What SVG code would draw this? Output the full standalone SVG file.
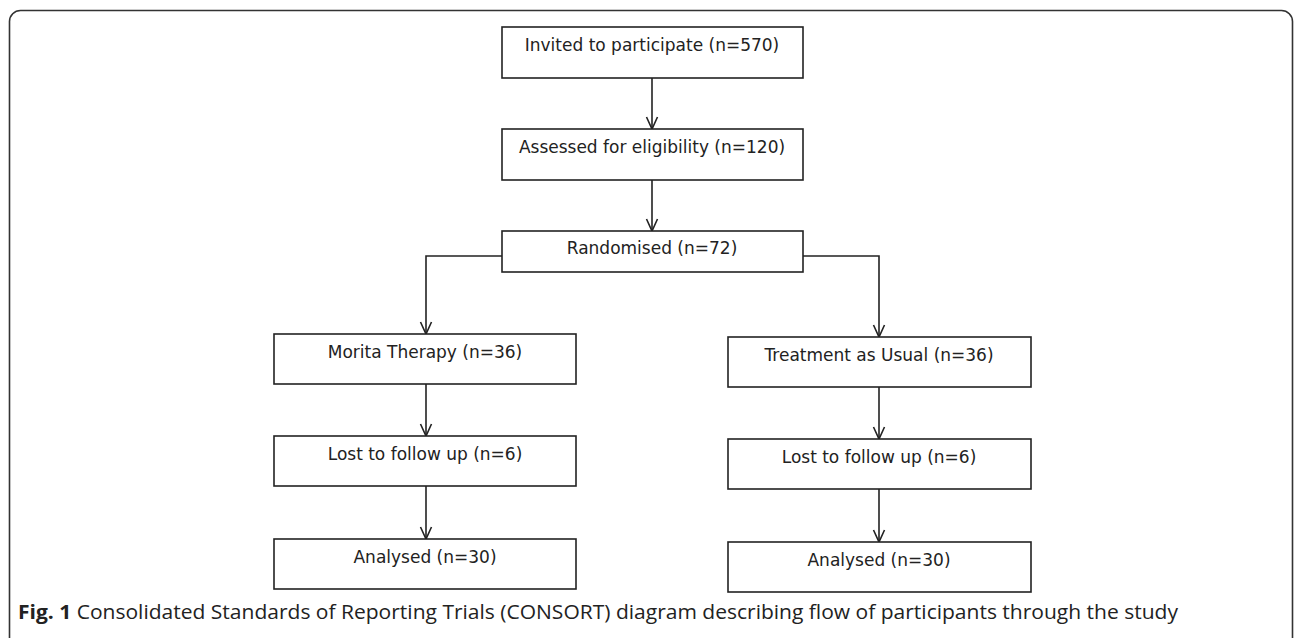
<svg xmlns="http://www.w3.org/2000/svg" width="1296" height="638" viewBox="0 0 1296 638">
<style>
.box{fill:#fff;stroke:#222;stroke-width:1.6}
.lbl{font-family:"DejaVu Sans",Verdana,sans-serif;font-size:17px;fill:#222;text-anchor:middle}
.con{fill:none;stroke:#222;stroke-width:1.6}
.cap{font-family:"Open Sans","Liberation Sans",sans-serif;font-size:20px;fill:#222}
</style>
<rect x="9.5" y="10.5" width="1283" height="640" rx="11" fill="none" stroke="#333" stroke-width="1.6"/>
<g id="connectors">
<path class="con" d="M652,78 V128"/>
<path class="con" d="M652,180 V230"/>
<path class="con" d="M502,256 H426 V333"/>
<path class="con" d="M803,256 H879 V336"/>
<path class="con" d="M426,384 V435"/>
<path class="con" d="M426,486 V538"/>
<path class="con" d="M879,387 V438"/>
<path class="con" d="M879,489 V541"/>
<g class="con">
<path d="M646.5,117 L652,129 L657.5,117"/>
<path d="M646.5,219 L652,231 L657.5,219"/>
<path d="M420.5,322 L426,334 L431.5,322"/>
<path d="M873.5,325 L879,337 L884.5,325"/>
<path d="M420.5,424 L426,436 L431.5,424"/>
<path d="M420.5,527 L426,539 L431.5,527"/>
<path d="M873.5,427 L879,439 L884.5,427"/>
<path d="M873.5,530 L879,542 L884.5,530"/>
</g>
</g>
<g id="invited"><rect class="box" x="502" y="27" width="301" height="51"/><text class="lbl" x="652" y="51">Invited to participate (n=570)</text></g>
<g id="assessed"><rect class="box" x="502" y="129" width="301" height="51"/><text class="lbl" x="652" y="153">Assessed for eligibility (n=120)</text></g>
<g id="randomised"><rect class="box" x="502" y="231" width="301" height="41"/><text class="lbl" x="652" y="254">Randomised (n=72)</text></g>
<g id="morita"><rect class="box" x="274" y="334" width="302" height="50"/><text class="lbl" x="425" y="358">Morita Therapy (n=36)</text></g>
<g id="lost-left"><rect class="box" x="274" y="436" width="302" height="50"/><text class="lbl" x="425" y="460">Lost to follow up (n=6)</text></g>
<g id="analysed-left"><rect class="box" x="274" y="539" width="302" height="50"/><text class="lbl" x="425" y="563">Analysed (n=30)</text></g>
<g id="tau"><rect class="box" x="728" y="337" width="303" height="50"/><text class="lbl" x="879" y="361">Treatment as Usual (n=36)</text></g>
<g id="lost-right"><rect class="box" x="728" y="439" width="303" height="50"/><text class="lbl" x="879" y="463">Lost to follow up (n=6)</text></g>
<g id="analysed-right"><rect class="box" x="728" y="542" width="303" height="50"/><text class="lbl" x="879" y="566">Analysed (n=30)</text></g>
<text class="cap" x="18" y="619" textLength="1160" lengthAdjust="spacingAndGlyphs"><tspan font-weight="bold">Fig. 1</tspan> Consolidated Standards of Reporting Trials (CONSORT) diagram describing flow of participants through the study</text>
</svg>
